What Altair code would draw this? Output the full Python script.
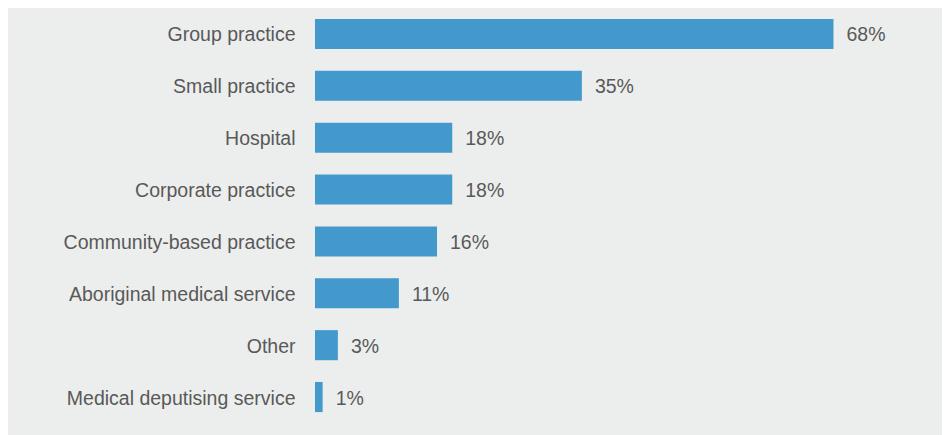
import altair as alt
import pandas as pd

categories = ["Group practice", "Small practice", "Hospital", "Corporate practice",
              "Community-based practice", "Aboriginal medical service", "Other",
              "Medical deputising service"]
values = [68, 35, 18, 18, 16, 11, 3, 1]
labels = ["68%", "35%", "18%", "18%", "16%", "11%", "3%", "1%"]

df = pd.DataFrame({"cat": categories, "val": values, "lab": labels})

FONT = "Liberation Sans"
TXT = "#595959"
FS = 19.5

y = alt.Y("cat:N", sort=categories, title=None,
          scale=alt.Scale(paddingInner=0.42, paddingOuter=0.21),
          axis=alt.Axis(domain=False, ticks=False, labelFont=FONT, labelFontSize=FS,
                        labelColor=TXT, labelPadding=20, labelLimit=400, labelOffset=1.5))
x = alt.X("val:Q", title=None, scale=alt.Scale(domain=[0, 80]), axis=None)

bars = alt.Chart(df).mark_bar(color="#4499cc").encode(x=x, y=y)
text = alt.Chart(df).mark_text(align="left", baseline="middle", dx=13, dy=1.5, font=FONT,
                               fontSize=FS, color=TXT).encode(x=x, y=y, text="lab:N")

chart = (bars + text).properties(
    width=610, height=415,
    autosize=alt.AutoSizeParams(type="none"),
    padding={"left": 307, "top": 0, "right": 17, "bottom": 12},
    background="#eceeed",
).configure_view(stroke=None).configure_axis(grid=False)

chart.save("out.html", embed_options={"renderer": "svg", "actions": False})
